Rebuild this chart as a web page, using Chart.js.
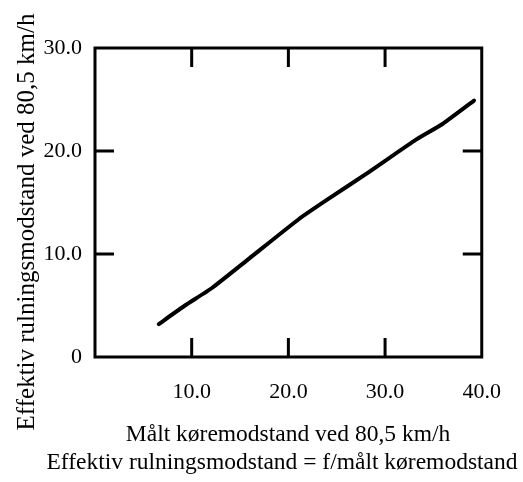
<!DOCTYPE html>
<html>
<head>
<meta charset="utf-8">
<script src="https://cdn.jsdelivr.net/npm/chart.js@4"></script>
<style>
  html, body { margin: 0; padding: 0; background: #fff; }
  #wrap { width: 523px; height: 482px; }
</style>
</head>
<body>
<div id="wrap"><canvas id="chart-area" width="523" height="482"></canvas></div>
<script>
// measured driving resistance (x) vs effective rolling resistance (y)
var maaltKoremodstand = [6.6, 9.3, 12.1, 16.0, 21.1, 23.9, 28.4, 33.2, 35.9, 39.2];
var effektivRulning   = [3.2, 5.0, 6.7, 9.6, 13.4, 15.2, 18.0, 21.1, 22.6, 24.9];
var xTicks = [10, 20, 30, 40];
var xTickLabels = ["10.0", "20.0", "30.0", "40.0"];
var yTicks = [0, 10, 20, 30];
var yTickLabels = ["0", "10.0", "20.0", "30.0"];
var yTitle = "Effektiv rulningsmodstand ved 80,5 km/h";
var xTitle = "Målt køremodstand ved 80,5 km/h";
var note = "Effektiv rulningsmodstand = f/målt køremodstand";

var serif = "'Liberation Serif', 'DejaVu Serif', serif";

var points = maaltKoremodstand.map(function(x, i) {
    return { x: x, y: effektivRulning[i] };
});

// frame, inward tick marks and the titles
var framePlugin = {
    id: 'frame',
    afterDraw: function(chart) {
        var c = chart.ctx, a = chart.chartArea;
        var xs = chart.scales.x, ys = chart.scales.y;
        var len = 19;
        c.save();
        c.strokeStyle = '#000';
        c.lineWidth = 3;
        c.strokeRect(a.left, a.top, a.right - a.left, a.bottom - a.top);
        c.beginPath();
        [10, 20, 30].forEach(function(v) {
            var px = xs.getPixelForValue(v);
            c.moveTo(px, a.bottom); c.lineTo(px, a.bottom - len);
            c.moveTo(px, a.top); c.lineTo(px, a.top + len);
        });
        [10, 20].forEach(function(v) {
            var py = ys.getPixelForValue(v);
            c.moveTo(a.left, py); c.lineTo(a.left + len, py);
            c.moveTo(a.right, py); c.lineTo(a.right - len, py);
        });
        c.stroke();

        c.fillStyle = '#000';
        c.textAlign = 'center';
        c.textBaseline = 'middle';
        c.font = "23.5px " + serif;
        c.fillText(xTitle, 288, 435);
        c.fillText(note, 282, 463);

        c.translate(27, 222);
        c.rotate(-Math.PI / 2);
        c.font = "25px " + serif;
        c.fillText(yTitle, 0, 0);
        c.restore();
    }
};

var config = {
    type: 'scatter',
    data: {
        datasets: [{
            data: points,
            showLine: true,
            borderColor: '#000',
            borderWidth: 4,
            pointRadius: 0,
            tension: 0.15,
            borderCapStyle: 'round'
        }]
    },
    options: {
        responsive: false,
        animation: false,
        layout: { padding: { top: 48, right: 40, left: 0, bottom: 0 } },
        plugins: { legend: { display: false }, tooltip: { enabled: false } },
        scales: {
            x: {
                type: 'linear', min: 0, max: 40,
                afterBuildTicks: function(s) { s.ticks = xTicks.map(function(v) { return { value: v }; }); },
                afterFit: function(s) { s.height = 125; },
                grid: { display: false, drawTicks: false },
                border: { display: false },
                ticks: {
                    padding: 22,
                    color: '#000',
                    font: { family: serif, size: 22 },
                    callback: function(v) { return xTickLabels[xTicks.indexOf(v)]; }
                }
            },
            y: {
                type: 'linear', min: 0, max: 30,
                afterBuildTicks: function(s) { s.ticks = yTicks.map(function(v) { return { value: v }; }); },
                afterFit: function(s) { s.width = 95; },
                grid: { display: false, drawTicks: false },
                border: { display: false },
                ticks: {
                    padding: 13,
                    color: '#000',
                    font: { family: serif, size: 22 },
                    callback: function(v) { return yTickLabels[yTicks.indexOf(v)]; }
                }
            }
        }
    },
    plugins: [framePlugin]
};

var ctx = document.getElementById("chart-area").getContext("2d");
new Chart(ctx, config);
</script>
</body>
</html>
